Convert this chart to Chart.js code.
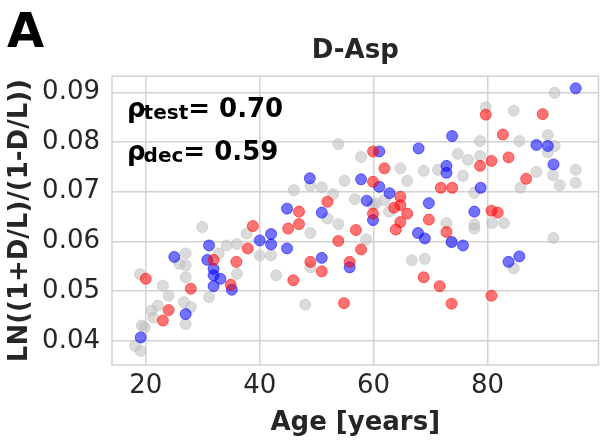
<!DOCTYPE html>
<html>
<head>
<meta charset="utf-8">
<script src="https://cdn.jsdelivr.net/npm/chart.js@4"></script>
<style>
  body { margin: 0; background: #fff; }
  #wrap { width: 605px; height: 442px; position: relative; }
</style>
</head>
<body>
<div id="wrap"><canvas id="myChart"></canvas></div>
<script>
// [age, value] pairs
var greyPts = [
    [29.9, 0.0629], [19.0, 0.0534], [23.0, 0.0511], [24.0, 0.0491], [22.1, 0.0471], [21.0, 0.0461],
    [21.3, 0.0447], [19.3, 0.0431], [19.8, 0.0427], [18.1, 0.0390], [19.1, 0.0380], [27.0, 0.0576],
    [25.9, 0.0555], [27.0, 0.0552], [27.0, 0.0528], [26.7, 0.0478], [27.9, 0.0468], [27.0, 0.0434],
    [31.1, 0.0488], [32.8, 0.0576], [34.2, 0.0592], [36.0, 0.0595], [37.7, 0.0616], [36.0, 0.0535],
    [42.9, 0.0532], [40.0, 0.0572], [42.0, 0.0572], [57.8, 0.0770], [64.7, 0.0747], [68.8, 0.0742],
    [65.9, 0.0722], [54.9, 0.0722], [50.9, 0.0709], [48.9, 0.0712], [46.0, 0.0703], [52.9, 0.0695],
    [56.7, 0.0685], [61.9, 0.0683], [60.4, 0.0677], [62.7, 0.0660], [51.9, 0.0646], [53.8, 0.0635],
    [48.9, 0.0617], [58.7, 0.0604], [66.7, 0.0562], [69.0, 0.0565], [48.9, 0.0548], [48.0, 0.0473],
    [53.8, 0.0796], [59.9, 0.0673], [91.8, 0.0899], [79.7, 0.0870], [84.6, 0.0863], [78.7, 0.0802],
    [85.6, 0.0802], [90.6, 0.0814], [91.8, 0.0792], [90.6, 0.0779], [74.8, 0.0776], [76.6, 0.0764],
    [78.7, 0.0772], [71.3, 0.0744], [75.7, 0.0732], [88.6, 0.0740], [91.5, 0.0733], [95.5, 0.0744],
    [92.7, 0.0713], [95.5, 0.0718], [85.8, 0.0708], [77.7, 0.0698], [72.8, 0.0637], [77.7, 0.0634],
    [82.9, 0.0637], [80.8, 0.0637], [77.7, 0.0626], [91.6, 0.0607], [73.7, 0.0598], [84.6, 0.0546]
];
var bluePts = [
    [25.0, 0.0569], [31.1, 0.0592], [30.8, 0.0563], [31.9, 0.0545], [31.9, 0.0532], [33.1, 0.0525],
    [31.9, 0.0510], [35.1, 0.0503], [27.0, 0.0454], [19.1, 0.0407], [40.0, 0.0602], [42.0, 0.0615],
    [42.0, 0.0594], [48.8, 0.0727], [57.8, 0.0725], [61.0, 0.0781], [67.9, 0.0787], [44.8, 0.0666],
    [50.9, 0.0658], [58.8, 0.0682], [61.0, 0.0710], [62.8, 0.0697], [59.9, 0.0643], [69.7, 0.0677],
    [67.8, 0.0617], [69.0, 0.0606], [44.8, 0.0586], [50.9, 0.0567], [55.8, 0.0548], [95.5, 0.0908],
    [73.8, 0.0812], [88.6, 0.0794], [90.6, 0.0792], [91.6, 0.0755], [72.8, 0.0752], [72.8, 0.0738],
    [78.8, 0.0708], [77.7, 0.0660], [75.7, 0.0592], [73.7, 0.0599], [83.7, 0.0559], [85.6, 0.0570]
];
var redPts = [
    [20.0, 0.0525], [27.9, 0.0505], [24.0, 0.0462], [23.0, 0.0441], [31.9, 0.0563], [35.9, 0.0559],
    [34.9, 0.0513], [38.8, 0.0631], [37.9, 0.0586], [59.9, 0.0781], [61.9, 0.0747], [59.9, 0.0720],
    [51.9, 0.0680], [46.9, 0.0660], [46.9, 0.0635], [45.0, 0.0626], [64.7, 0.0690], [63.6, 0.0668],
    [64.7, 0.0673], [65.9, 0.0656], [64.7, 0.0639], [63.9, 0.0624], [59.9, 0.0656], [56.9, 0.0623],
    [53.8, 0.0601], [57.8, 0.0584], [48.9, 0.0559], [50.9, 0.0540], [55.8, 0.0559], [45.9, 0.0522],
    [54.8, 0.0476], [68.8, 0.0528], [69.7, 0.0644], [79.7, 0.0855], [89.7, 0.0856], [82.7, 0.0815],
    [83.7, 0.0769], [80.7, 0.0762], [78.7, 0.0752], [86.8, 0.0726], [71.8, 0.0708], [73.8, 0.0708],
    [80.7, 0.0662], [81.8, 0.0658], [72.8, 0.0619], [71.6, 0.0510], [73.7, 0.0475], [80.7, 0.0491]
];
var xTicks = [20, 40, 60, 80];
var yTicks = [0.04, 0.05, 0.06, 0.07, 0.08, 0.09];
var statLines = [['test', '0.70'], ['dec', '0.59']];

var FONT = "'DejaVu Sans', sans-serif";
var gridColor = 'rgb(210,210,210)';

function toXY(pts) {
    return pts.map(function (p) { return { x: p[0], y: p[1] }; });
}

function pointSet(label, pts, rgb, alpha, order) {
    return {
        label: label,
        data: toXY(pts),
        backgroundColor: 'rgba(' + rgb + ',' + alpha + ')',
        borderColor: 'rgba(' + rgb + ',' + alpha + ')',
        borderWidth: 1,
        pointRadius: 5.5,
        order: order
    };
}

var extras = {
    id: 'extras',
    beforeDatasetsDraw: function (chart) {
        var ctx = chart.ctx, a = chart.chartArea;
        ctx.save();
        ctx.strokeStyle = gridColor;
        ctx.lineWidth = 1.5;
        ctx.strokeRect(a.left, a.top, a.right - a.left, a.bottom - a.top);
        ctx.restore();
    },
    afterDraw: function (chart) {
        var ctx = chart.ctx, a = chart.chartArea;
        ctx.save();
        ctx.fillStyle = '#000';
        ctx.textBaseline = 'alphabetic';
        ctx.font = 'bold 48px ' + FONT;
        ctx.fillText('A', 7, 47);

        statLines.forEach(function (s, i) {
            var x = a.left + 15;
            var y = a.top + 41 + i * 43;
            ctx.font = 'bold 26px ' + FONT;
            ctx.fillText('\u03C1', x, y);
            x += ctx.measureText('\u03C1').width - 2;
            ctx.font = 'bold 20px ' + FONT;
            ctx.fillText(s[0], x, y + 2);
            x += ctx.measureText(s[0]).width;
            ctx.font = 'bold 26px ' + FONT;
            ctx.fillText('= ' + s[1], x, y);
        });
        ctx.restore();
    }
};

document.addEventListener('DOMContentLoaded', function () {
    var ctx = document.getElementById('myChart').getContext('2d');
    Chart.defaults.font.family = FONT;
    Chart.defaults.color = '#262626';

    new Chart(ctx, {
        type: 'scatter',
        data: {
            datasets: [
                pointSet('train', greyPts, '190,190,190', 0.55, 3),
                pointSet('test', bluePts, '0,0,255', 0.55, 2),
                pointSet('dec', redPts, '255,0,0', 0.55, 1)
            ]
        },
        options: {
            responsive: true,
            maintainAspectRatio: false,
            animation: false,
            layout: { padding: 0 },
            plugins: {
                legend: { display: false },
                tooltip: { enabled: false },
                title: {
                    display: true,
                    text: 'D-Asp',
                    fullSize: false,
                    color: '#262626',
                    font: { size: 26, weight: 'bold' },
                    padding: { top: 36, bottom: 9 }
                }
            },
            scales: {
                x: {
                    min: 14.06,
                    max: 99.5,
                    afterBuildTicks: function (axis) {
                        axis.ticks = xTicks.map(function (v) { return { value: v }; });
                    },
                    afterFit: function (axis) { axis.height = 77; },
                    ticks: { font: { size: 26 }, padding: 6, color: '#262626' },
                    grid: { color: gridColor, lineWidth: 1.5, drawTicks: false },
                    border: { display: false },
                    title: {
                        display: true,
                        text: 'Age [years]',
                        font: { size: 26, weight: 'bold' },
                        color: '#262626',
                        padding: { top: 5, bottom: 3 }
                    }
                },
                y: {
                    min: 0.03516,
                    max: 0.09323,
                    afterBuildTicks: function (axis) {
                        axis.ticks = yTicks.map(function (v) { return { value: v }; });
                    },
                    afterFit: function (axis) { axis.width = 112; },
                    ticks: {
                        font: { size: 26 },
                        padding: 12,
                        color: '#262626',
                        callback: function (v) { return v.toFixed(2); }
                    },
                    grid: { color: gridColor, lineWidth: 1.5, drawTicks: false },
                    border: { display: false },
                    title: {
                        display: true,
                        text: 'LN((1+D/L)/(1-D/L))',
                        font: { size: 26, weight: 'bold' },
                        color: '#262626',
                        padding: { top: 5, bottom: 5 }
                    }
                }
            }
        },
        plugins: [extras]
    });
});
</script>
</body>
</html>
